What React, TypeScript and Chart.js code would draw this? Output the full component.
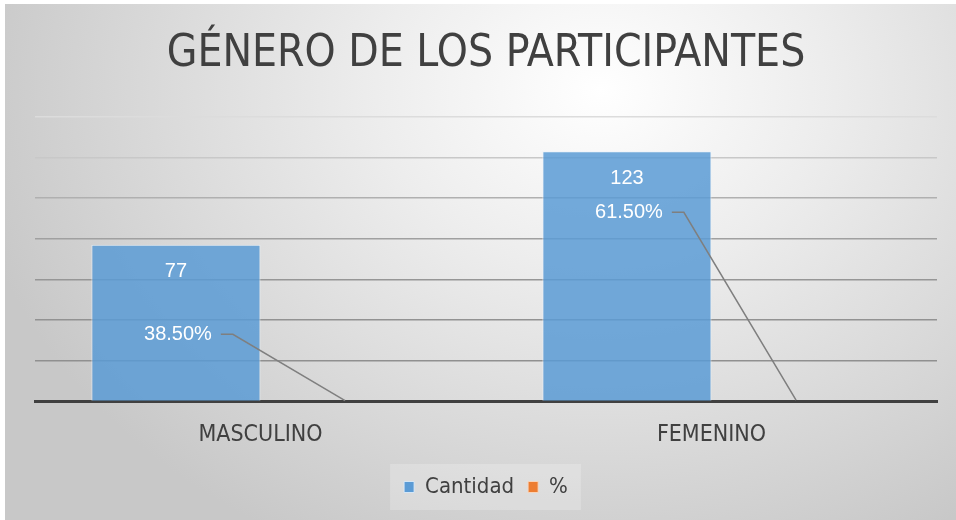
import React, { useEffect, useRef } from "react";
import { Chart, registerables } from "chart.js";

Chart.register(...registerables);

const categories = ["MASCULINO", "FEMENINO"];
const cantidad = [77, 123];
const porcentaje = [0.385, 0.615];
const seriesNames = ["Cantidad", "%"];
const seriesColors = ["#5b9bd5", "#ed7d31"];
const chartTitle = "GÉNERO DE LOS PARTICIPANTES";
// where the % labels were placed (in y-axis units)
const pctLabelAnchor = [33, 93];

const NARROW = "'Liberation Sans Narrow', 'DejaVu Sans Condensed', 'Arial Narrow', sans-serif";
const LABEL_FONT = "'Liberation Sans', Arial, sans-serif";
const TEXT = "#404040";

const gridColors: Record<number, string> = {
  140: "#dcdcdc",
  120: "#c8c8c8",
  100: "#b0b0b0",
  80: "#a0a0a0",
  60: "#969696",
  40: "#929292",
  20: "#909090",
  0: "rgba(0,0,0,0)",
};

const bgPlugin = {
  id: "bgPlugin",
  beforeDraw(chart: any) {
    const { ctx, width, height } = chart;
    ctx.save();
    ctx.fillStyle = "#ffffff";
    ctx.fillRect(0, 0, width, height);
    const fx = 5, fy = 4;
    ctx.beginPath();
    ctx.rect(fx, fy, width - fx, height - fy);
    ctx.clip();
    ctx.translate(600, 90);
    ctx.scale(1, 0.8);
    const g = ctx.createRadialGradient(0, 0, 0, 0, 0, 640);
    g.addColorStop(0, "#ffffff");
    g.addColorStop(0.35, "#ededed");
    g.addColorStop(1, "#c8c8c8");
    ctx.fillStyle = g;
    ctx.fillRect(-800, -400, 1800, 1200);
    ctx.restore();
    // legend box
    const lg = chart.legend;
    if (lg && lg.legendHitBoxes && lg.legendHitBoxes.length) {
      const hb = lg.legendHitBoxes;
      const left = Math.min(...hb.map((h: any) => h.left)) - 14;
      const right = Math.max(...hb.map((h: any) => h.left + h.width)) + 13;
      const cy = hb[0].top + hb[0].height / 2;
      ctx.save();
      ctx.fillStyle = "rgba(255,255,255,0.22)";
      ctx.fillRect(left, cy - 23, right - left, 46);
      ctx.restore();
    }
  },
};

const labelPlugin = {
  id: "labelPlugin",
  afterDatasetsDraw(chart: any) {
    const { ctx } = chart;
    const yScale = chart.scales.y;
    const m0 = chart.getDatasetMeta(0);
    const m1 = chart.getDatasetMeta(1);
    ctx.save();
    ctx.font = `20px ${LABEL_FONT}`;
    ctx.fillStyle = "#ffffff";
    ctx.textAlign = "center";
    ctx.textBaseline = "middle";
    m0.data.forEach((bar: any, i: number) => {
      ctx.fillText(String(cantidad[i]), bar.x, bar.y + 27);
    });
    m1.data.forEach((bar: any, i: number) => {
      const txt = (porcentaje[i] * 100).toFixed(2) + "%";
      const lx = m0.data[i].x + 2;
      const ly = yScale.getPixelForValue(pctLabelAnchor[i]);
      ctx.fillStyle = "#ffffff";
      ctx.fillText(txt, lx, ly);
      const w = ctx.measureText(txt).width;
      const sx = lx + w / 2 + 9;
      ctx.strokeStyle = "#7f7f7f";
      ctx.lineWidth = 1.5;
      ctx.beginPath();
      ctx.moveTo(sx, ly);
      ctx.lineTo(sx + 12, ly);
      ctx.lineTo(bar.x, bar.y);
      ctx.stroke();
    });
    ctx.restore();
  },
};

export default function App() {
  const ref = useRef<HTMLCanvasElement | null>(null);
  useEffect(() => {
    if (!ref.current) return;
    const chart = new Chart(ref.current, {
      type: "bar",
      data: {
        labels: categories,
        datasets: [
          {
            label: seriesNames[0],
            data: cantidad,
            backgroundColor: "rgba(91,155,213,0.85)",
            borderColor: "rgba(235,243,250,0.8)",
            borderWidth: 1,
            categoryPercentage: 0.75,
            barPercentage: 1.0,
          },
          {
            label: seriesNames[1],
            data: porcentaje,
            // sits under the axis line in the original (values too small to show)
            backgroundColor: "rgba(237,125,49,0)",
            borderWidth: 0,
            categoryPercentage: 0.75,
            barPercentage: 1.0,
          },
        ],
      },
      options: {
        animation: false,
        responsive: false,
        maintainAspectRatio: false,
        layout: { padding: { left: 35, right: 19, top: 0, bottom: 12 } },
        plugins: {
          title: {
            display: true,
            text: chartTitle,
            color: TEXT,
            font: { family: NARROW, size: 44, weight: "normal" },
            padding: { top: 28, bottom: 36 },
          },
          legend: {
            position: "bottom",
            labels: {
              color: TEXT,
              font: { family: NARROW, size: 22 },
              boxWidth: 10,
              boxHeight: 11,
              padding: 14,
              generateLabels: (chart: any) => {
                const items = Chart.defaults.plugins.legend.labels.generateLabels(chart);
                items.forEach((it: any, i: number) => {
                  it.fillStyle = seriesColors[i];
                  it.strokeStyle = i === 0 ? "rgba(220,235,248,0.9)" : "rgba(250,215,190,0.9)";
                  it.lineWidth = 1;
                });
                return items;
              },
            },
          },
          tooltip: { enabled: false },
        },
        scales: {
          x: {
            z: 1,
            grid: { display: true, color: "rgba(0,0,0,0)", drawTicks: false },
            border: { display: true, color: "#404040", width: 3 },
            ticks: {
              color: TEXT,
              font: { family: NARROW, size: 23 },
              padding: 20,
            },
            afterFit: (s: any) => {
              s.height -= 7;
            },
          },
          y: {
            min: 0,
            max: 140,
            ticks: { display: false, stepSize: 20 },
            border: { display: false },
            grid: {
              drawTicks: false,
              lineWidth: 1.5,
              color: (c: any) => gridColors[c.tick?.value] ?? "#999999",
            },
            afterFit: (s: any) => {
              s.width = 0;
            },
          },
        },
      },
      plugins: [bgPlugin, labelPlugin],
    });
    return () => chart.destroy();
  }, []);
  return (
    <div style={{ position: "fixed", left: 0, top: 0, width: 956, height: 520 }}>
      <canvas ref={ref} width={956} height={520} style={{ width: 956, height: 520, display: "block" }} />
    </div>
  );
}
